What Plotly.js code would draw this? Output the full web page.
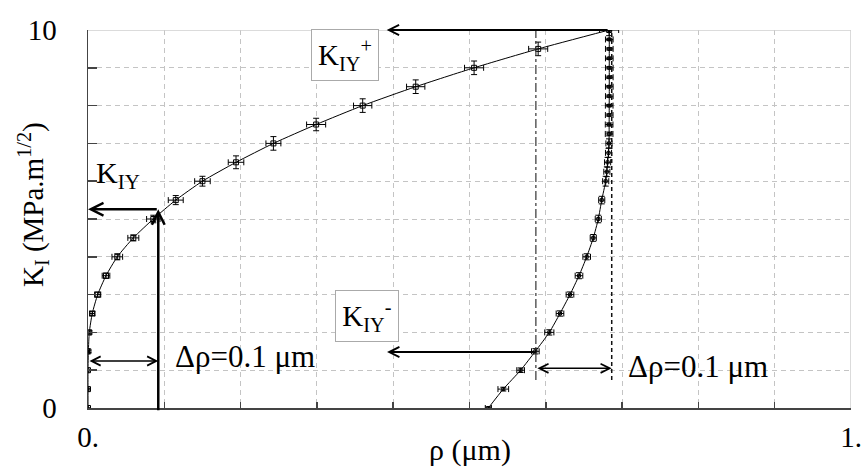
<!DOCTYPE html>
<html>
<head>
<meta charset="utf-8">
<script src="https://cdn.plot.ly/plotly-3.0.1.min.js"></script>
<style>html,body{margin:0;padding:0;background:#fff}#chart{width:864px;height:469px}</style>
</head>
<body>
<div id="chart"></div>
<script>
// Loading branch (K increasing)
const loadK = [0,0.5,1,1.5,2,2.5,3,3.5,4,4.5,5,5.5,6,6.5,7,7.5,8,8.5,9,9.5,10];
const loadRho = [0,0,0,0.0005,0.0017,0.0056,0.0127,0.0236,0.0384,0.0594,0.0856,0.115,0.150,0.194,0.243,0.299,0.360,0.4295,0.506,0.590,0.683];
const loadRhoErr = [0,0.001,0.001,0.0015,0.002,0.0033,0.004,0.005,0.007,0.0072,0.0088,0.0098,0.0102,0.0102,0.0098,0.0125,0.012,0.012,0.0125,0.0125,0.0125];
const loadKErr = [0,0.02,0.02,0.03,0.04,0.05,0.065,0.07,0.08,0.08,0.10,0.12,0.13,0.17,0.18,0.165,0.18,0.18,0.18,0.18,0.15];

// Unloading branch (K decreasing)
const unloadK = [10,9.75,9.5,9.25,9,8.75,8.5,8.25,8,7.75,7.5,7.25,7,6.75,6.5,6.25,6,5.5,5,4.5,4,3.5,3,2.5,2,1.5,1,0.5,0];
const unloadRho = [0.683,0.6832,0.6832,0.6832,0.6832,0.6832,0.6832,0.6832,0.6831,0.6831,0.683,0.683,0.6828,0.6822,0.681,0.680,0.6785,0.6733,0.6688,0.6622,0.6536,0.6435,0.6317,0.6186,0.6046,0.5863,0.567,0.5443,0.5247];
const unloadRhoErr = [0,0.005,0.005,0.005,0.005,0.005,0.005,0.005,0.005,0.005,0.005,0.005,0.004,0.004,0.004,0.004,0.004,0.004,0.004,0.004,0.005,0.005,0.005,0.005,0.006,0.005,0.005,0.007,0.004];
const unloadKErr = [0,0.03,0.03,0.03,0.03,0.03,0.03,0.03,0.03,0.03,0.04,0.05,0.12,0.12,0.13,0.13,0.13,0.1,0.1,0.09,0.08,0.08,0.07,0.07,0.07,0.07,0.06,0.05,0.03];

// Axis ticks (labelled ticks; unlabelled ones are minor ticks every 0.1 / 1)
const xTickVals = [0, 1];
const xTickText = ['0.', '1.'];
const yTickVals = [0, 10];
const yTickText = ['0', '10'];

// Annotation values
const kiyLevel = 5.26;      // K_IY on loading branch
const rhoLeft = 0.0921;     // Δρ position, loading
const kiyMinus = 1.48;      // K_IY- on unloading
const rhoDashDot = 0.587;
const rhoDashed = 0.6864;
const kiyPlus = 10;

const FONT = 'Liberation Serif, Times New Roman, serif';
const errStyle = {type:'data', color:'#000', thickness:1, width:3, visible:true};

const traces = [
  {x: loadRho, y: loadK, type:'scatter', mode:'lines+markers',
   line:{color:'#000', width:1, shape:'spline', smoothing:0.6},
   marker:{symbol:'square-open', size:5, color:'#000', line:{width:1, color:'#000'}},
   error_x: Object.assign({array: loadRhoErr}, errStyle),
   error_y: Object.assign({array: loadKErr}, errStyle),
   showlegend:false, hoverinfo:'x+y'},
  {x: unloadRho, y: unloadK, type:'scatter', mode:'lines+markers',
   line:{color:'#000', width:1, shape:'spline', smoothing:0.6},
   marker:{symbol:'square-open', size:3, color:'#000', line:{width:1, color:'#000'}},
   error_x: Object.assign({array: unloadRhoErr}, errStyle),
   error_y: Object.assign({array: unloadKErr}, errStyle),
   showlegend:false, hoverinfo:'x+y'}
];

function arrow(x, y, ax, ay, opts) {
  return Object.assign({x:x, y:y, ax:ax, ay:ay, xref:'x', yref:'y', axref:'x', ayref:'y',
    text:'', showarrow:true, arrowhead:5, arrowsize:1, arrowwidth:2, arrowcolor:'#000',
    standoff:0, startstandoff:0}, opts || {});
}

const annotations = [
  // K_IY+ arrow
  arrow(0.3915, kiyPlus, 0.683, kiyPlus),
  {x:0.3362, y:1.0026, xref:'x', yref:'paper', text:'K<sub>IY</sub><sup>+</sup>', showarrow:false,
   font:{family:FONT, size:29, color:'#000'}, bgcolor:'#fff', bordercolor:'#aaa', borderwidth:1,
   borderpad:2, width:62, height:46},
  // K_IY- arrow
  arrow(0.3919, kiyMinus, 0.5863, kiyMinus),
  {x:0.3657, y:2.434, xref:'x', yref:'y', text:'K<sub>IY</sub><sup>-</sup>', showarrow:false,
   font:{family:FONT, size:29, color:'#000'}, bgcolor:'#fff', bordercolor:'#aaa', borderwidth:1,
   borderpad:2, width:58, height:46},
  // right Δρ double arrow
  arrow(rhoDashed, 1.05, rhoDashDot, 1.05, {arrowside:'end+start', arrowwidth:1.5, arrowsize:1.2}),
  {x:0.705, y:1.11, xref:'x', yref:'y', xanchor:'left', yanchor:'middle', text:'Δρ=0.1 μm', showarrow:false,
   font:{family:FONT, size:31, color:'#000'}},
  // left Δρ double arrow
  arrow(rhoLeft, 1.243, 0, 1.243, {arrowside:'end+start', arrowwidth:1.5, arrowsize:1.2}),
  {x:0.112, y:1.35, xref:'x', yref:'y', xanchor:'left', yanchor:'middle', text:'Δρ=0.1 μm', showarrow:false,
   font:{family:FONT, size:31, color:'#000'}},
  // vertical arrow up to curve, then left to axis
  arrow(rhoLeft, kiyLevel, rhoLeft, -0.1, {arrowwidth:2.5}),
  arrow(0, kiyLevel, rhoLeft, kiyLevel, {arrowwidth:2.5}),
  {x:0.008, y:6.17, xref:'x', yref:'y', xanchor:'left', yanchor:'middle', text:'K<sub>IY</sub>', showarrow:false,
   font:{family:FONT, size:30, color:'#000'}},
  // axis titles
  {x:-0.072, y:0.537, xref:'paper', yref:'paper', xanchor:'center', yanchor:'middle',
   text:'K<sub>I</sub> (MPa.m<sup>1/2</sup>)', textangle:-90, showarrow:false,
   font:{family:FONT, size:29, color:'#000'}},
  {x:0.5, y:-0.111, xref:'paper', yref:'paper', xanchor:'center', yanchor:'middle',
   text:'ρ (μm)', showarrow:false, font:{family:FONT, size:30, color:'#000'}}
];

const shapes = [
  {type:'line', xref:'x', yref:'y', x0:0, x1:1, y0:10, y1:10, line:{color:'#cfcfcf', width:1.5}, layer:'between'},
  {type:'line', xref:'x', yref:'y', x0:1, x1:1, y0:0, y1:10, line:{color:'#cfcfcf', width:1.5}, layer:'between'},
  {type:'line', xref:'x', yref:'y', x0:rhoDashed, x1:rhoDashed, y0:0.74, y1:10, line:{color:'#111', width:1.5, dash:'4px,3px'}},
  {type:'line', xref:'x', yref:'y', x0:rhoDashDot, x1:rhoDashDot, y0:0.74, y1:10, line:{color:'#333', width:1.2, dash:'dashdot'}}
];

const gridStyle = {showgrid:true, gridcolor:'#c4c4c4', gridwidth:1, griddash:'5px,4px'};

const layout = {
  width:864, height:469,
  margin:{l:88, r:13, t:30, b:61, pad:0},
  paper_bgcolor:'#fff', plot_bgcolor:'#fff',
  font:{family:FONT, size:29, color:'#000'},
  showlegend:false,
  xaxis:Object.assign({range:[0,1], tickmode:'array', tickvals:xTickVals, ticktext:xTickText,
    ticks:'inside', ticklen:6, tickwidth:1.5, tickcolor:'#444',
    showline:true, linecolor:'#444', linewidth:1.5,
    zeroline:false, ticklabelstandoff:3,
    tickfont:{family:FONT, size:29, color:'#000'},
    minor:Object.assign({tick0:0, dtick:0.1, ticks:'inside', ticklen:6, tickwidth:1.5, tickcolor:'#444'}, gridStyle)},
    gridStyle),
  yaxis:Object.assign({range:[0,10], tickmode:'array', tickvals:yTickVals, ticktext:yTickText,
    ticks:'inside', ticklen:9, tickwidth:1.5, tickcolor:'#444',
    showline:true, linecolor:'#444', linewidth:1.5,
    zeroline:false, ticklabelstandoff:24,
    tickfont:{family:FONT, size:29, color:'#000'},
    minor:Object.assign({tick0:0, dtick:1, ticks:'inside', ticklen:9, tickwidth:1.5, tickcolor:'#444'}, gridStyle)},
    gridStyle),
  annotations: annotations,
  shapes: shapes
};

Plotly.newPlot('chart', traces, layout, {staticPlot:true, displayModeBar:false});
</script>
</body>
</html>
